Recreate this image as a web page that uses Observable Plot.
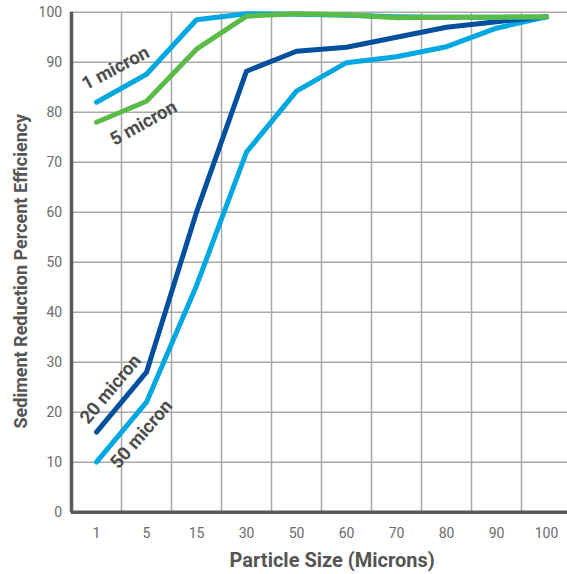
<!DOCTYPE html>
<html>
<head>
<meta charset="utf-8">
<script src="https://cdn.jsdelivr.net/npm/d3@7"></script>
<script src="https://cdn.jsdelivr.net/npm/@observablehq/plot@0.6"></script>
<style>
  html, body { margin: 0; padding: 0; background: #fff; overflow: hidden; }
  #chart svg { display: block; }
</style>
</head>
<body>
<div id="chart"></div>
<script>
const sizes = ["1", "5", "15", "30", "50", "60", "70", "80", "90", "100"];
const yTicks = [0, 10, 20, 30, 40, 50, 60, 70, 80, 90, 100];
const eff1  = [82, 87.6, 98.5, 99.7, 99.6, 99.4, 99.1, 99.0, 99.0, 99.0];
const eff5  = [78, 82.2, 92.6, 99.2, 99.7, 99.5, 98.9, 99.0, 99.0, 99.1];
const eff20 = [16, 28, 60, 88.2, 92.2, 93, 95, 97, 98.1, 99.1];
const eff50 = [10, 22, 45.3, 72, 84.2, 89.9, 91.1, 93.1, 96.8, 99.1];
const seriesNames = ["50 micron", "20 micron", "1 micron", "5 micron"];
const seriesValues = [eff50, eff20, eff1, eff5];
const seriesColors = ["#00a8e1", "#00509e", "#00a8e1", "#5bbb47"];

const rows = [];
seriesNames.forEach((name, i) => {
  sizes.forEach((s, j) => rows.push({series: name, size: s, value: seriesValues[i][j], color: seriesColors[i]}));
});

const labelFont = "Roboto, 'DejaVu Sans', sans-serif";
const grid = "#a9a9a9";
const axisCol = "#5a5a5a";

function seriesLabel(text, x, y, angle, dx, dy) {
  return Plot.text([{text, x, y}], {
    x: "x", y: "y", text: "text", rotate: angle, dx, dy,
    fill: "#4d4d4d", fontSize: 18.5, fontWeight: "bold", fontFamily: labelFont,
    textAnchor: "middle", lineAnchor: "middle"
  });
}

const chart = Plot.plot({
  width: 567,
  height: 574,
  marginLeft: 70.7,
  marginRight: -3.7,
  marginTop: 11.7,
  marginBottom: 62.3,
  style: {fontFamily: labelFont, fontSize: "14px", color: "#6b6b6b", background: "#fff"},
  x: {type: "point", domain: sizes, padding: 0.5, label: null, tickSize: 0, tickPadding: 16},
  y: {domain: [0, 100], ticks: yTicks, label: null, tickSize: 0, tickPadding: 9},
  marks: [
    Plot.ruleY(yTicks.slice(1), {stroke: grid, strokeWidth: 1.5}),
    Plot.ruleX(sizes.slice(0, -1), {dx: 25, stroke: grid, strokeWidth: 1.5}),
    Plot.ruleX([sizes[0]], {dx: -25, stroke: axisCol, strokeWidth: 3.5}),
    Plot.ruleY([0], {stroke: axisCol, strokeWidth: 3.5}),
    Plot.line(rows, {x: "size", y: "value", z: "series", stroke: "color", strokeWidth: 5, strokeLinecap: "round", strokeLinejoin: "round"}),
    seriesLabel("1 micron", "1", 88.8, -28, 19, 0),
    seriesLabel("5 micron", "5", 77.8, -29, -3, 0),
    seriesLabel("20 micron", "1", 24.6, -50, 14, 0),
    seriesLabel("50 micron", "5", 15.6, -49, -5, 0),
    Plot.text(["Particle Size (Microns)"], {frameAnchor: "bottom", dy: 48, dx: 11, fill: "#555", fontSize: 20, fontWeight: "bold", fontFamily: labelFont, textAnchor: "middle", lineAnchor: "middle"}),
    Plot.text(["Sediment Reduction Percent Efficiency"], {frameAnchor: "left", rotate: -90, dx: -50, dy: 9, fill: "#555", fontSize: 18, fontWeight: "bold", fontFamily: labelFont, textAnchor: "middle", lineAnchor: "middle"})
  ]
});
document.getElementById("chart").appendChild(chart);
</script>
</body>
</html>
